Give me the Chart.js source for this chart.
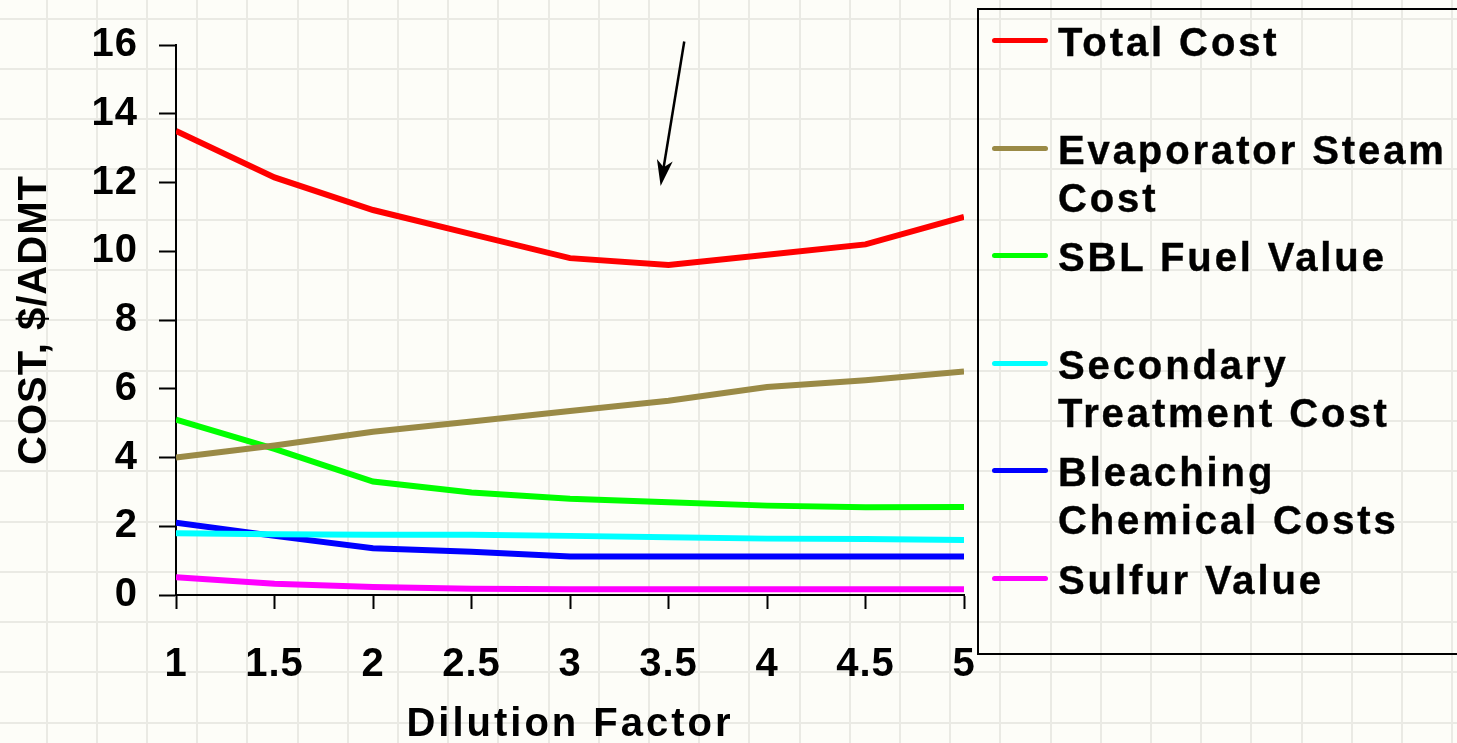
<!DOCTYPE html>
<html>
<head>
<meta charset="utf-8">
<title>Cost vs Dilution Factor</title>
<script src="https://cdn.jsdelivr.net/npm/chart.js@4.4.0/dist/chart.umd.min.js"></script>
<style>
  body { margin: 0; overflow: hidden; background: #fdfdf8; font-family: "Liberation Sans", Arial, sans-serif; }
  #wrap { position: relative; width: 1457px; height: 743px; }
  #legend { position: absolute; left: 977px; top: 8px; width: 520px; height: 647px; border: 2px solid #000; border-right: none; box-sizing: border-box; }
  .item { position: relative; height: 107.6px; }
  .swatch { position: absolute; left: 13px; top: 28px; width: 56px; height: 5px; border-radius: 3px; }
  .txt { position: absolute; left: 79px; top: 8px; width: 400px; font-weight: bold; font-size: 40px; line-height: 48px; letter-spacing: 2.9px; color: #000; -webkit-text-stroke: 0.4px #000; }
</style>
</head>
<body>
<div id="wrap">
  <canvas id="costChart" width="1457" height="743"></canvas>
  <div id="legend"></div>
</div>
<script>
// values
const dilution = [1, 1.5, 2, 2.5, 3, 3.5, 4, 4.5, 5];
const totalCost = [13.5, 12.15, 11.2, 10.5, 9.8, 9.6, 9.9, 10.2, 11.0];
const evaporatorSteam = [4.0, 4.35, 4.75, 5.05, 5.35, 5.65, 6.05, 6.25, 6.5];
const sblFuel = [5.1, 4.25, 3.3, 2.98, 2.8, 2.7, 2.6, 2.55, 2.56];
const secondaryTreatment = [1.8, 1.77, 1.75, 1.75, 1.72, 1.68, 1.64, 1.63, 1.6];
const bleaching = [2.1, 1.72, 1.36, 1.26, 1.12, 1.12, 1.12, 1.12, 1.12];
const sulfur = [0.52, 0.33, 0.23, 0.18, 0.17, 0.17, 0.17, 0.17, 0.17];

const seriesNames = ['Total Cost', 'Evaporator Steam Cost', 'SBL Fuel Value',
    'Secondary Treatment Cost', 'Bleaching Chemical Costs', 'Sulfur Value'];
const seriesValues = [totalCost, evaporatorSteam, sblFuel, secondaryTreatment, bleaching, sulfur];
const seriesColors = ['#ff0000', '#9a8a46', '#00ff00', '#00ffff', '#0000ff', '#ff00ff'];

// arrow pointing at the minimum, in data units [x, y]
const arrowFrom = [3.58, 16.1];
const arrowTo = [3.46, 11.9];

const boldFont = { family: '"Liberation Sans", Arial, sans-serif', size: 40, weight: 'bold' };

const paperBackground = {
    id: 'paperBackground',
    beforeDraw(chart) {
        const ctx = chart.ctx;
        ctx.save();
        ctx.fillStyle = '#fdfdf8';
        ctx.fillRect(0, 0, chart.width, chart.height);
        ctx.strokeStyle = 'rgba(160,160,150,0.2)';
        ctx.lineWidth = 2;
        ctx.beginPath();
        for (let x = -3.7; x < chart.width; x += 50.2) {
            ctx.moveTo(Math.round(x), 0);
            ctx.lineTo(Math.round(x), chart.height);
        }
        for (let y = 18.5; y < chart.height; y += 50.3) {
            ctx.moveTo(0, Math.round(y));
            ctx.lineTo(chart.width, Math.round(y));
        }
        ctx.stroke();
        ctx.restore();
        ctx.letterSpacing = '1px';
        const xs = chart.scales.x;
        if (!xs._wrappedTitle) {
            const orig = xs.drawTitle;
            xs.drawTitle = function() {
                ctx.letterSpacing = '3px';
                orig.apply(this, arguments);
                ctx.letterSpacing = '1px';
            };
            xs._wrappedTitle = true;
        }
    }
};

const arrowPlugin = {
    id: 'arrowPlugin',
    afterDatasetsDraw(chart) {
        const ctx = chart.ctx;
        const xs = chart.scales.x, ys = chart.scales.y;
        const x1 = xs.getPixelForValue(arrowFrom[0]), y1 = ys.getPixelForValue(arrowFrom[1]);
        const x2 = xs.getPixelForValue(arrowTo[0]), y2 = ys.getPixelForValue(arrowTo[1]);
        const ang = Math.atan2(y2 - y1, x2 - x1);
        ctx.save();
        ctx.strokeStyle = '#000';
        ctx.fillStyle = '#000';
        ctx.lineWidth = 2.5;
        ctx.beginPath();
        ctx.moveTo(x1, y1);
        ctx.lineTo(x2 - 10 * Math.cos(ang), y2 - 10 * Math.sin(ang));
        ctx.stroke();
        ctx.translate(x2, y2);
        ctx.rotate(ang);
        ctx.beginPath();
        ctx.moveTo(0, 0);
        ctx.lineTo(-26, -8);
        ctx.lineTo(-19, 0);
        ctx.lineTo(-26, 8);
        ctx.closePath();
        ctx.fill();
        ctx.restore();
    }
};

const datasets = seriesNames.map((name, i) => ({
    label: name,
    data: dilution.map((d, j) => ({ x: d, y: seriesValues[i][j] })),
    borderColor: seriesColors[i],
    backgroundColor: seriesColors[i],
    borderWidth: 6,
    pointRadius: 0,
    tension: 0,
    fill: false
}));

const ctx = document.getElementById('costChart').getContext('2d');
new Chart(ctx, {
    type: 'line',
    data: { datasets: datasets },
    options: {
        responsive: false,
        animation: false,
        layout: { padding: { top: 44, right: 493, bottom: 0, left: 0 } },
        plugins: { legend: { display: false }, tooltip: { enabled: false } },
        scales: {
            x: {
                type: 'linear',
                min: 1,
                max: 5,
                afterFit: s => { s.height = 148; },
                afterBuildTicks: s => { s.ticks = dilution.map(v => ({ value: v })); },
                ticks: { color: '#000', font: boldFont, padding: 32, maxRotation: 0, callback: v => String(v) },
                grid: { drawOnChartArea: false, tickLength: 14, tickColor: '#000', tickWidth: 2 },
                border: { color: '#000', width: 2 },
                title: { display: true, text: 'Dilution Factor', color: '#000',
                    font: Object.assign({}, boldFont, { lineHeight: 0.9 }), padding: { top: 0, bottom: 0 } }
            },
            y: {
                min: 0,
                max: 16,
                afterFit: s => { s.width = 176; },
                ticks: { stepSize: 2, color: '#000', font: boldFont, padding: 21 },
                grid: { drawOnChartArea: false, tickLength: 17, tickColor: '#000', tickWidth: 2 },
                border: { color: '#000', width: 2 },
                title: { display: true, text: 'COST, $/ADMT', color: '#000', font: boldFont, padding: { top: 11, bottom: 0 } }
            }
        }
    },
    plugins: [paperBackground, arrowPlugin]
});

// legend drawn as html next to the chart
const legend = document.getElementById('legend');
datasets.forEach(ds => {
    const item = document.createElement('div');
    item.className = 'item';
    const sw = document.createElement('div');
    sw.className = 'swatch';
    sw.style.background = ds.borderColor;
    const txt = document.createElement('div');
    txt.className = 'txt';
    txt.innerText = ds.label;
    item.appendChild(sw);
    item.appendChild(txt);
    legend.appendChild(item);
});
</script>
</body>
</html>
